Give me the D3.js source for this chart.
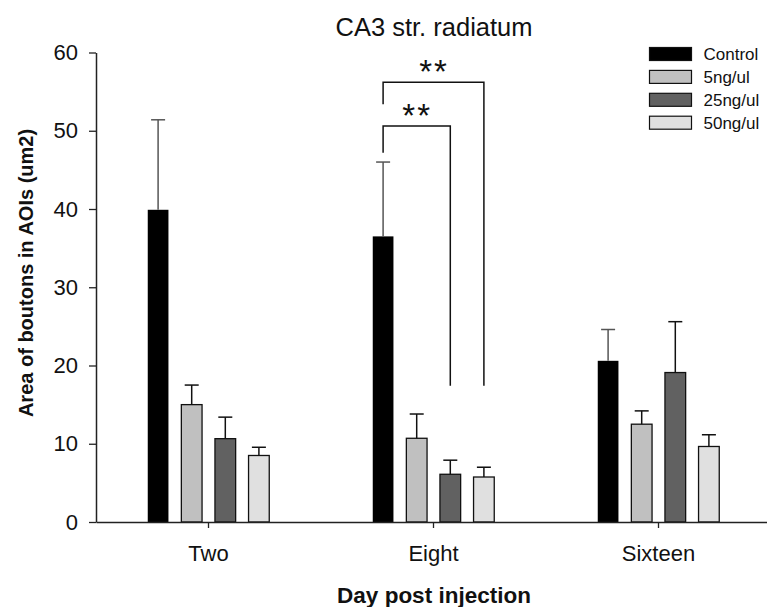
<!DOCTYPE html>
<html>
<head>
<meta charset="utf-8">
<script src="https://cdn.jsdelivr.net/npm/d3@7"></script>
<style>
  html, body { margin: 0; padding: 0; background: #fff; }
  svg { display: block; font-family: Arial, "Liberation Sans", sans-serif; }
</style>
</head>
<body>
<svg id="chart" width="767" height="607"></svg>
<script>
// Day groups and treatment series
const days = ["Two", "Eight", "Sixteen"];
const series = ["Control", "5ng/ul", "25ng/ul", "50ng/ul"];
const seriesColors = ["#000000", "#c0c0c0", "#616161", "#e0e0e0"];

// Mean area per series, in the order of `days`
const controlMean = [39.9, 36.5, 20.6];
const ng5Mean     = [15.0, 10.7, 12.5];
const ng25Mean    = [10.65, 6.1, 19.1];
const ng50Mean    = [8.5, 5.75, 9.65];

// Upper error bar ends (mean + SEM)
const controlErr = [51.4, 46.0, 24.6];
const ng5Err     = [17.5, 13.8, 14.2];
const ng25Err    = [13.4, 7.9, 25.6];
const ng50Err    = [9.55, 7.0, 11.15];

const yTicks = [0, 10, 20, 30, 40, 50, 60];

// Significance brackets on day Eight: [from series, to series, top, left end, right end, label]
const brackets = [
  ["Control", "50ng/ul", 56.2, 53.4, 17.4, "**"],
  ["Control", "25ng/ul", 50.6, 47.2, 17.4, "**"]
];

const means = [controlMean, ng5Mean, ng25Mean, ng50Mean];
const errs = [controlErr, ng5Err, ng25Err, ng50Err];
const rows = [];
series.forEach((s, si) => days.forEach((d, di) => {
  rows.push({ day: d, series: s, si, value: means[si][di], err: errs[si][di] });
}));

const svg = d3.select("#chart");
const plotLeft = 96, plotRight = 771, plotTop = 52.5, plotBottom = 522;

const x = d3.scaleBand().domain(days).range([plotLeft, plotRight]).padding(0);
const half = 67.2;
const xs = d3.scaleBand().domain(series).range([-half, half])
  .paddingInner(0.384).paddingOuter(0.192);
const y = d3.scaleLinear().domain([0, 60]).range([plotBottom, plotTop]);

const cx = d => x(d) + x.bandwidth() / 2;

// Bars
svg.append("g").selectAll("rect").data(rows).join("rect")
  .attr("x", d => cx(d.day) + xs(d.series))
  .attr("y", d => y(d.value))
  .attr("width", xs.bandwidth())
  .attr("height", d => y(0) - y(d.value))
  .attr("fill", d => seriesColors[d.si])
  .attr("stroke", "#111")
  .attr("stroke-width", d => d.si === 0 ? 0 : 1.3);

// Error bars (upper only)
const eb = svg.append("g").selectAll("g").data(rows).join("g")
  .attr("stroke", d => d.si === 0 ? "#555" : "#111")
  .attr("stroke-width", 1.5);
eb.append("line")
  .attr("x1", d => cx(d.day) + xs(d.series) + xs.bandwidth() / 2)
  .attr("x2", d => cx(d.day) + xs(d.series) + xs.bandwidth() / 2)
  .attr("y1", d => y(d.value))
  .attr("y2", d => y(d.err));
eb.append("line")
  .attr("x1", d => cx(d.day) + xs(d.series) + xs.bandwidth() / 2 - 7)
  .attr("x2", d => cx(d.day) + xs(d.series) + xs.bandwidth() / 2 + 7)
  .attr("y1", d => y(d.err))
  .attr("y2", d => y(d.err));

// Y axis
const yAxis = svg.append("g")
  .attr("transform", `translate(${plotLeft},0)`)
  .call(d3.axisLeft(y).tickValues(yTicks).tickSize(7).tickPadding(11).tickSizeOuter(0));
yAxis.select(".domain").attr("stroke", "#222").attr("stroke-width", 1.5);
yAxis.selectAll(".tick line").attr("stroke", "#222").attr("stroke-width", 1.3);
yAxis.selectAll("text").attr("font-size", 22).attr("fill", "#111")
  .attr("font-family", "Arial, 'Liberation Sans', sans-serif");

// X axis
const xAxis = svg.append("g")
  .attr("transform", `translate(0,${plotBottom})`)
  .call(d3.axisBottom(x).tickSize(6).tickPadding(17).tickSizeOuter(0));
xAxis.select(".domain").attr("stroke", "#222").attr("stroke-width", 1.5);
xAxis.selectAll(".tick line").attr("stroke", "#222").attr("stroke-width", 1.3);
xAxis.selectAll("text").attr("font-size", 22).attr("fill", "#111")
  .attr("font-family", "Arial, 'Liberation Sans', sans-serif");

// Significance brackets
const bx = s => cx("Eight") + xs(s) + xs.bandwidth() / 2;
const bg = svg.append("g");
brackets.forEach(b => {
  const x1 = bx(b[0]), x2 = bx(b[1]);
  bg.append("path")
    .attr("d", `M${x1},${y(b[3])}V${y(b[2])}H${x2}V${y(b[4])}`)
    .attr("fill", "none").attr("stroke", "#111").attr("stroke-width", 1.5);
  bg.append("text")
    .attr("x", (x1 + x2) / 2 + 0.5)
    .attr("y", y(b[2]) + 1)
    .attr("text-anchor", "middle")
    .attr("font-size", 33)
    .attr("letter-spacing", 2)
    .attr("fill", "#111")
    .text(b[5]);
});

// Legend
const lg = svg.append("g").selectAll("g").data(series).join("g")
  .attr("transform", (d, i) => `translate(649.5,${47.5 + i * 22.9})`);
lg.append("rect")
  .attr("width", 42).attr("height", 13)
  .attr("fill", (d, i) => seriesColors[i])
  .attr("stroke", "#111").attr("stroke-width", 1.2);
lg.append("text")
  .attr("x", 54).attr("y", 12.5)
  .attr("font-size", 17).attr("fill", "#111")
  .text(d => d);

// Title and axis labels
svg.append("text")
  .attr("x", 434).attr("y", 36)
  .attr("text-anchor", "middle")
  .attr("font-size", 25.5).attr("fill", "#111")
  .text("CA3 str. radiatum");

svg.append("text")
  .attr("x", 434).attr("y", 603)
  .attr("text-anchor", "middle")
  .attr("font-size", 22.5).attr("font-weight", "bold").attr("fill", "#111")
  .text("Day post injection");

svg.append("text")
  .attr("transform", "translate(33,273) rotate(-90)")
  .attr("text-anchor", "middle")
  .attr("font-size", 20).attr("font-weight", "bold").attr("fill", "#111")
  .text("Area of boutons in AOIs (um2)");
</script>
</body>
</html>
